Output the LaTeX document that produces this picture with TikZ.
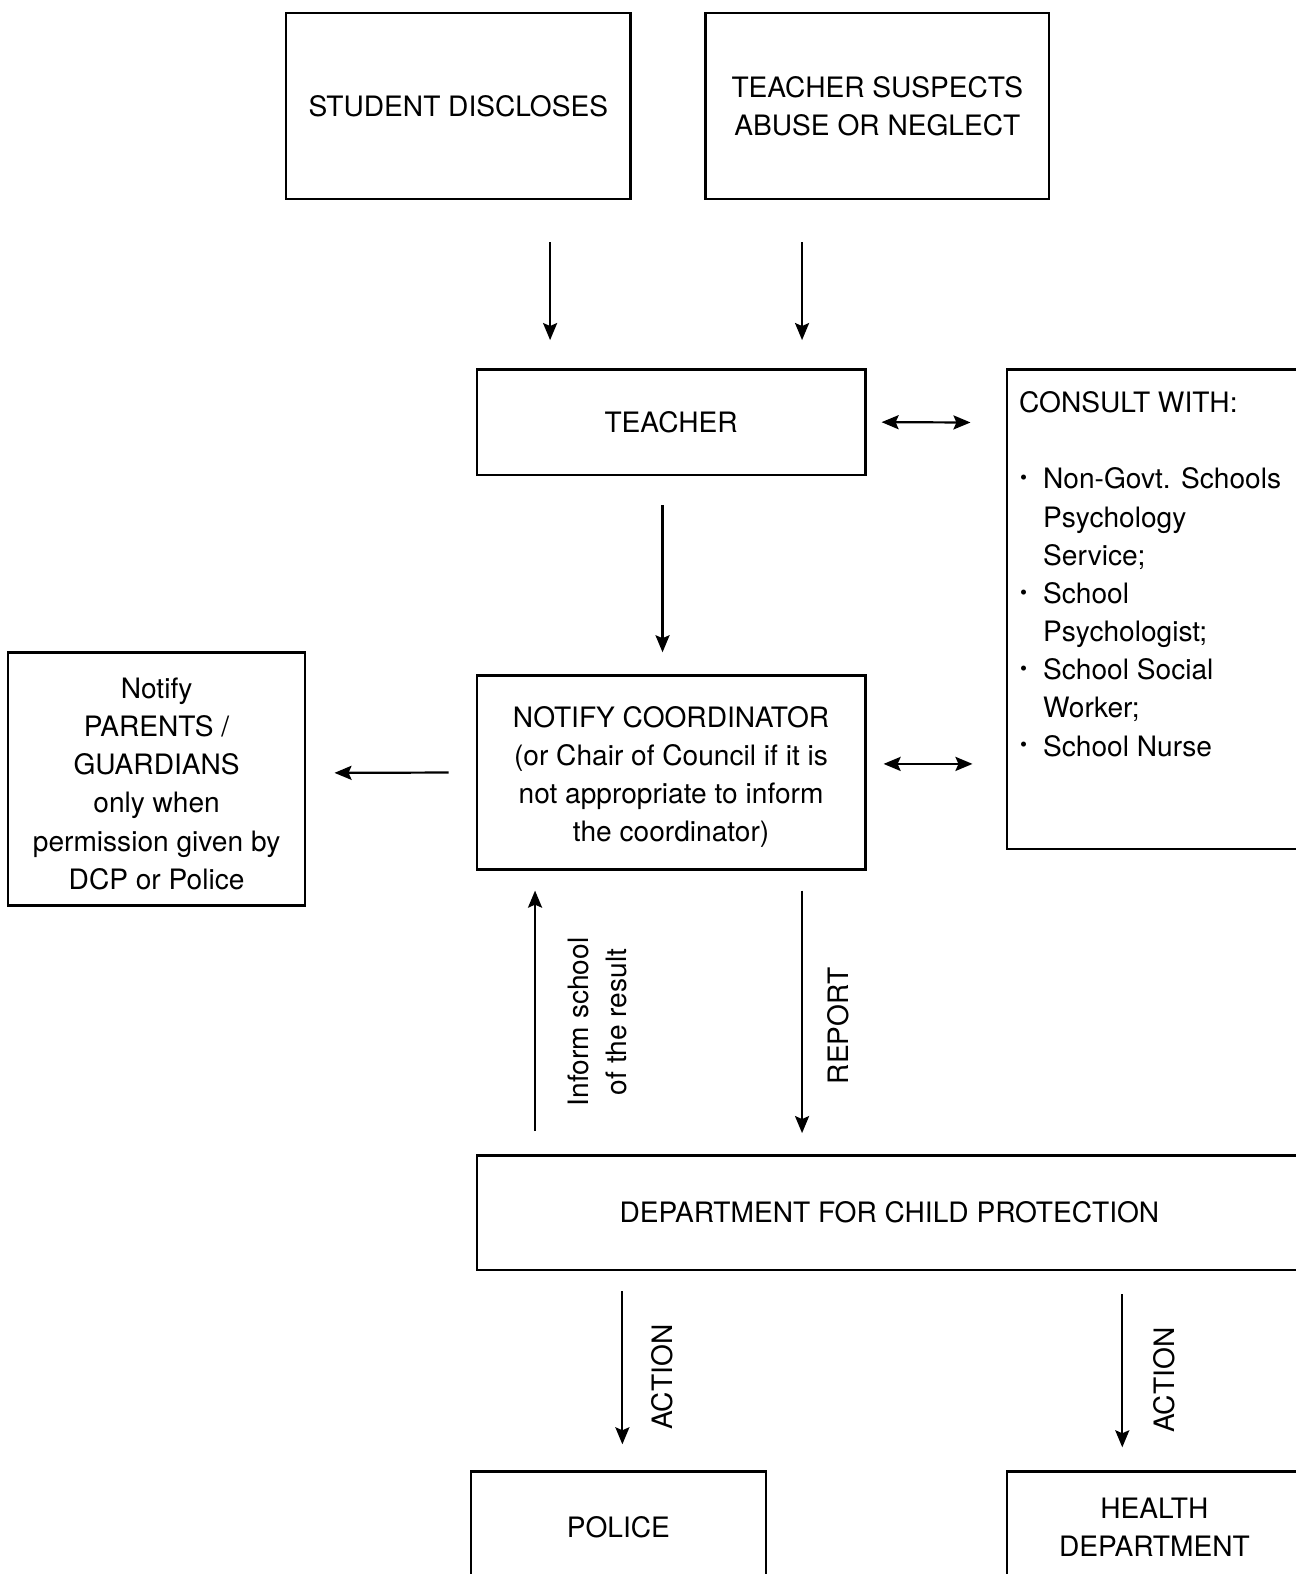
\documentclass[tikz,border=0pt]{standalone}
\usepackage{fontspec}
\setmainfont{TeX Gyre Heros}
\usetikzlibrary{arrows.meta}
\newcommand\cbul{\makebox[24pt][l]{\hspace{1pt}\raisebox{4pt}{\fontsize{20}{20}\selectfont •}}}
\newcommand\cind{\hspace*{24pt}}
\begin{document}
\begin{tikzpicture}[x=1pt,y=-1pt,
  box/.style={draw, line width=2.4pt, inner sep=0pt},
  txt/.style={font=\fontsize{28}{38}\selectfont, align=center},
  arr/.style={line width=2.2pt, -{Stealth[length=17pt,width=14pt,inset=3pt]}},
  darr/.style={line width=2.2pt, {Stealth[length=17pt,width=14pt,inset=3pt]}-{Stealth[length=17pt,width=14pt,inset=3pt]}}]
\useasboundingbox (0,0) rectangle (1291,1568);
\clip (0,0) rectangle (1291,1568);

\node[box, txt, minimum width=343pt, minimum height=185pt] (student) at (456.5,105.5) {STUDENT DISCLOSES};
\node[box, txt, minimum width=342pt, minimum height=185pt] (suspects) at (874,105.5) {TEACHER SUSPECTS\\ABUSE OR NEGLECT};
\node[box, txt, minimum width=387pt, minimum height=105pt] (teacher) at (668.5,420.5) {TEACHER};
\node[box, minimum width=294pt, minimum height=478pt] (consult) at (1150,607) {};
\node[txt, align=left, anchor=north west, inner sep=0pt] (consulttext) at (1015,390) {CONSULT WITH:\\[38pt]
\cbul Non-Govt. Schools\\
\cind Psychology\\
\cind Service;\\
\cbul School\\
\cind Psychologist;\\
\cbul School Social\\
\cind Worker;\\
\cbul School Nurse};
\node[box, txt, minimum width=387pt, minimum height=193pt] (notify) at (668.5,769.5) {\rule{0pt}{30pt}NOTIFY COORDINATOR\\(or Chair of Council if it is\\not appropriate to inform\\the coordinator)};
\node[box, txt, minimum width=296pt, minimum height=252pt] (parents) at (156,776) {\rule{0pt}{30pt}Notify\\PARENTS /\\GUARDIANS\\only when\\permission given by\\DCP or Police};
\node[box, txt, minimum width=822pt, minimum height=114pt] (dcp) at (886,1208) {DEPARTMENT FOR CHILD PROTECTION};
\node[box, txt, minimum width=294pt, minimum height=110pt] (police) at (616,1521) {POLICE};
\node[box, txt, minimum width=294pt, minimum height=110pt] (health) at (1150,1521) {HEALTH\\DEPARTMENT};

\draw[arr, shorten <=42pt, shorten >=28pt] ([xshift=91.5pt]student.south) -- ([xshift=-120.5pt]teacher.north);
\draw[arr, shorten <=42pt, shorten >=28pt] ([xshift=-75pt]suspects.south) -- ([xshift=130.5pt]teacher.north);
\draw[darr, shorten <=15pt, shorten >=35pt] (teacher.east) -- ([yshift=186pt]consult.west);
\draw[arr, shorten <=29pt, shorten >=22pt] ([xshift=-8.5pt]teacher.south) -- ([xshift=-8.5pt]notify.north);
\draw[darr, shorten <=17pt, shorten >=33pt] ([yshift=8.5pt]notify.east) -- ([yshift=-154pt]consult.west);
\draw[arr, shorten <=27pt, shorten >=28pt] (notify.west) -- ([yshift=6pt]parents.east);
\draw[arr, shorten <=23pt, shorten >=20pt] ([xshift=-353pt]dcp.north) -- ([xshift=-135.5pt]notify.south);
\draw[arr, shorten <=20pt, shorten >=21pt] ([xshift=130.5pt]notify.south) -- ([xshift=-87pt]dcp.north);
\draw[arr, shorten <=20pt, shorten >=26pt] ([xshift=-266pt]dcp.south) -- ([xshift=4pt]police.north);
\draw[arr, shorten <=23pt, shorten >=23pt] ([xshift=232pt]dcp.south) -- ([xshift=-32pt]health.north);

\node[txt, rotate=90] (informlbl) at (595,1018) {Inform school\\of the result};
\node[txt, rotate=90] (reportlbl) at (835,1022) {REPORT};
\node[txt, rotate=90] (action1) at (660,1372) {ACTION};
\node[txt, rotate=90] (action2) at (1160,1375) {ACTION};
\end{tikzpicture}
\end{document}
